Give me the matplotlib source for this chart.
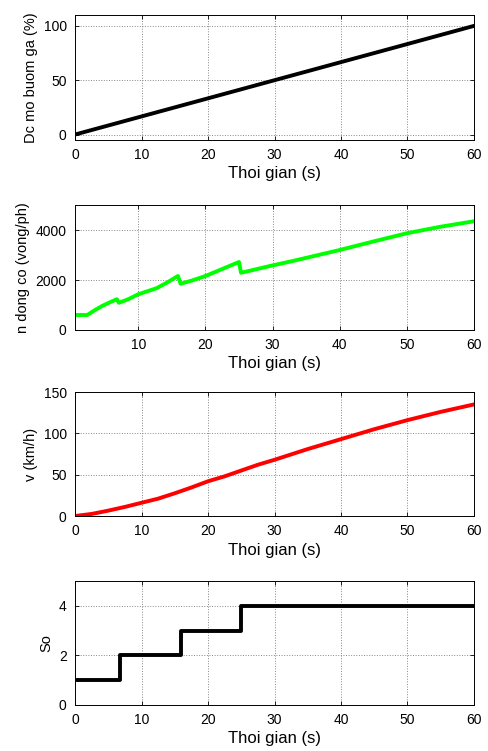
import matplotlib
matplotlib.use("Agg")
import matplotlib.pyplot as plt

plt.rcParams["font.family"] = ["Liberation Sans", "DejaVu Sans"]

# throttle opening (%)
t_throttle = [0, 60]
throttle = [0, 100]

# engine speed (rpm) - gear shifts cause drops
t_rpm = [0.6, 2.4, 3.5, 4.6, 5.7, 6.8, 7.1, 8.5, 10.0, 12.7, 14.3, 15.9, 16.3, 18.0,
         20.0, 22.5, 25.0, 25.3, 26.6, 29.6, 33.0, 36.5, 40.0, 45.0, 50.0, 55.0, 60.0]
rpm = [600, 600, 790, 960, 1100, 1230, 1090, 1230, 1430, 1670, 1900, 2160, 1850, 1980,
       2160, 2440, 2720, 2290, 2370, 2560, 2760, 2980, 3200, 3540, 3870, 4130, 4350]

# vehicle speed (km/h)
t_speed = [0, 2.5, 5, 7.5, 10, 12.5, 15, 17.5, 20, 22.5, 25, 27.5, 30, 35, 40, 45, 50, 55, 60]
speed = [0, 2.5, 6.5, 11, 16, 21, 27.5, 34.5, 42, 48, 55, 62, 68, 81, 93, 105, 116, 126, 135]

# gear number
t_gear = [0, 6.7, 6.7, 16.0, 16.0, 25.0, 25.0, 60]
gear = [1, 1, 2, 2, 3, 3, 4, 4]

fig = plt.figure(figsize=(4.88, 7.51), dpi=100)

panels = [
    # (bottom, height)
    (0.8136, 0.1664),
    (0.5606, 0.1664),
    (0.3129, 0.1651),
    (0.0613, 0.1651),
]
axes = [fig.add_axes([0.1537, b, 0.8176, h]) for b, h in panels]

axes[0].plot(t_throttle, throttle, color="black", lw=2.8)
axes[0].set_ylim(-5, 110)
axes[0].set_xlim(0, 60)
axes[0].set_yticks([0, 50, 100])
axes[0].set_ylabel("Dc mo buom ga (%)")

axes[1].plot(t_rpm, rpm, color="#00ff00", lw=2.8)
axes[1].set_ylim(0, 5000)
axes[1].set_xlim(0.57, 60)
axes[1].set_yticks([0, 2000, 4000])
axes[1].set_xticks([10, 20, 30, 40, 50, 60])
axes[1].set_ylabel("n dong co (vong/ph)")

axes[2].plot(t_speed, speed, color="#ff0000", lw=2.8)
axes[2].set_ylim(0, 150)
axes[2].set_xlim(0, 60)
axes[2].set_yticks([0, 50, 100, 150])
axes[2].set_ylabel("v (km/h)")

axes[3].plot(t_gear, gear, color="black", lw=2.8)
axes[3].set_ylim(0, 5)
axes[3].set_xlim(0, 60)
axes[3].set_yticks([0, 2, 4])
axes[3].set_ylabel("So")

for ax in axes:
    ax.set_xlabel("Thoi gian (s)", fontsize=12, labelpad=3)
    ax.yaxis.label.set_fontsize(10.5)
    ax.tick_params(direction="in", top=True, right=True, labelsize=10, length=3, width=0.6)
    ax.tick_params(axis="x", pad=6)
    ax.tick_params(axis="y", pad=6)
    ax.grid(True, linestyle=":", color="#888888", lw=0.7)
    ax.set_axisbelow(True)
    for s in ax.spines.values():
        s.set_linewidth(0.7)

fig.savefig("out.png", dpi=100)
